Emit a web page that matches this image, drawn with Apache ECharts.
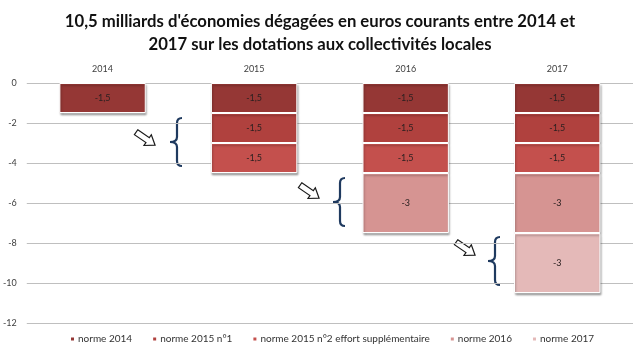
<!DOCTYPE html>
<html>
<head>
<meta charset="utf-8">
<script src="https://cdn.jsdelivr.net/npm/echarts@6/dist/echarts.min.js"></script>
<style>
  html, body { margin: 0; padding: 0; background: #fff; }
  #chart { width: 640px; height: 354px; }
</style>
</head>
<body>
<div id="chart"></div>
<script>
var years = ["2014", "2015", "2016", "2017"];
var norme2014 = [-1.5, -1.5, -1.5, -1.5];
var norme2015n1 = [null, -1.5, -1.5, -1.5];
var norme2015n2 = [null, -1.5, -1.5, -1.5];
var norme2016 = [null, null, -3, -3];
var norme2017 = [null, null, null, -3];
var seriesNames = ["norme 2014", "norme 2015 n°1", "norme 2015 n°2 effort supplémentaire", "norme 2016", "norme 2017"];
var colors = ["#953735", "#b0413e", "#c4504d", "#d69492", "#e4b9b8"];

var chart = echarts.init(document.getElementById("chart"));

function barSeries(name, data, color) {
  return {
    name: name,
    type: "bar",
    stack: "total",
    barWidth: "57%",
    data: data,
    itemStyle: {
      color: color,
      borderColor: "#fff",
      borderWidth: 1,
      shadowColor: "rgba(0,0,0,0.3)",
      shadowBlur: 2,
      shadowOffsetX: 1,
      shadowOffsetY: 2
    },
    label: {
      show: true,
      position: "inside",
      color: "#2b2020",
      fontSize: 9,
      fontFamily: "Lato",
      formatter: function (p) { return String(p.value).replace(".", ","); }
    }
  };
}

// hollow arrow, pointing right before rotation
function arrow(x, y) {
  return {
    type: "polygon",
    x: x, y: y,
    rotation: -0.6,
    shape: { points: [[-12, -3], [2, -3], [2, -6.5], [11, 0], [2, 6.5], [2, 3], [-12, 3]] },
    style: { fill: "#fff", stroke: "#1a1a1a", lineWidth: 1.2 }
  };
}

// curly brace "{" with its tip at (x, ym), half height h
function brace(x, ym, h) {
  var v = x + 7, e = x + 12;
  var st = { stroke: "#1f3a5f", lineWidth: 2.2, fill: null };
  function curve(x1, y1, cx, cy, x2, y2) {
    return { type: "bezierCurve", shape: { x1: x1, y1: y1, cpx1: cx, cpy1: cy, x2: x2, y2: y2 }, style: st };
  }
  function line(x1, y1, x2, y2) {
    return { type: "line", shape: { x1: x1, y1: y1, x2: x2, y2: y2 }, style: st };
  }
  return {
    type: "group",
    children: [
      curve(e, ym - h, v, ym - h, v, ym - h + 5),
      line(v, ym - h + 5, v, ym - 5),
      curve(v, ym - 5, v, ym, x, ym),
      curve(x, ym, v, ym, v, ym + 5),
      line(v, ym + 5, v, ym + h - 5),
      curve(v, ym + h - 5, v, ym + h, e, ym + h)
    ]
  };
}

var option = {
  animation: false,
  backgroundColor: "#fff",
  title: {
    text: "10,5 milliards d'économies dégagées en euros courants entre 2014 et\n2017 sur les dotations aux collectivités locales",
    left: "center",
    top: 5,
    textStyle: { fontFamily: "Lato", fontWeight: "bold", fontSize: 16.7, color: "#111", lineHeight: 23 }
  },
  legend: {
    bottom: 5,
    left: 64,
    data: seriesNames,
    icon: "rect",
    itemWidth: 5,
    itemHeight: 5,
    itemGap: 19,
    textStyle: { fontFamily: "Lato", fontSize: 10, color: "#333", padding: [0, 0, 0, -2] }
  },
  grid: { left: 23, right: 7, top: 83, bottom: 31 },
  xAxis: {
    type: "category",
    position: "top",
    data: years,
    axisLine: { show: false },
    axisTick: { show: false },
    axisLabel: { fontFamily: "Lato", fontSize: 9, color: "#404040", margin: 9 }
  },
  yAxis: {
    type: "value",
    min: -12,
    max: 0,
    interval: 2,
    axisLine: { show: false },
    axisTick: { show: false },
    axisLabel: { fontFamily: "Lato", fontSize: 9, color: "#404040", margin: 10 },
    splitLine: { lineStyle: { color: "#bfbfbf", width: 1.2 } }
  },
  series: [
    barSeries(seriesNames[0], norme2014, colors[0]),
    barSeries(seriesNames[1], norme2015n1, colors[1]),
    barSeries(seriesNames[2], norme2015n2, colors[2]),
    barSeries(seriesNames[3], norme2016, colors[3]),
    barSeries(seriesNames[4], norme2017, colors[4])
  ],
  graphic: [
    arrow(146, 139), brace(170, 142, 24),
    arrow(310, 192), brace(333, 202, 24),
    arrow(466, 249), brace(488, 261, 24)
  ]
};
chart.setOption(option);
</script>
</body>
</html>
